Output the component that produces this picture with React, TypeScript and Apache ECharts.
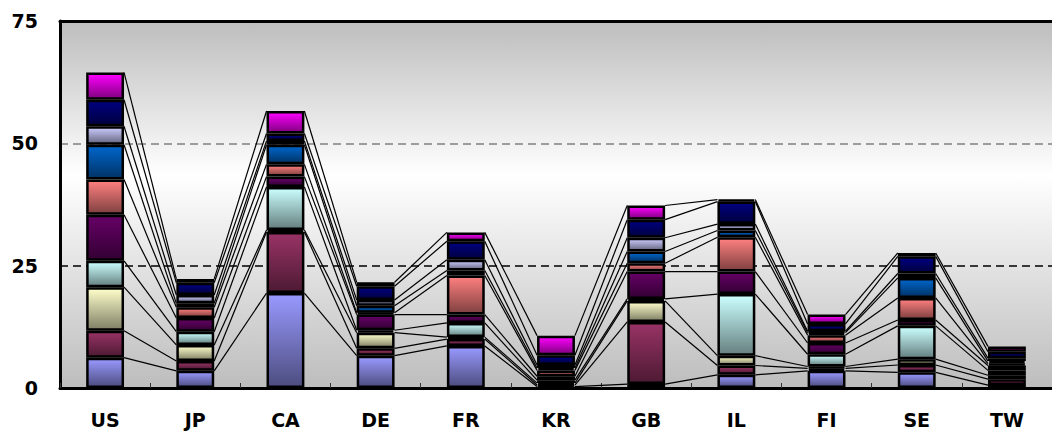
import React, { useEffect, useRef } from "react";
import * as echarts from "echarts";

const categories = ["US", "JP", "CA", "DE", "FR", "KR", "GB", "IL", "FI", "SE", "TW"];
const yTicks = [0, 25, 50, 75];

const series1 = [6.2, 3.5, 19.4, 6.6, 8.6, 0.3, 0.8, 2.7, 3.5, 3.2, 0.6];
const series2 = [5.5, 2.0, 12.5, 1.5, 1.4, 0.3, 12.7, 1.9, 0.5, 1.5, 1.2];
const series3 = [8.9, 3.3, 0.4, 3.2, 0.4, 0.4, 4.3, 2.0, 0.4, 1.2, 0.8];
const series4 = [5.4, 2.7, 8.8, 0.5, 2.9, 0.6, 0.4, 12.6, 2.5, 6.8, 1.0];
const series5 = [9.4, 2.8, 2.1, 3.2, 1.7, 0.8, 5.6, 4.6, 2.3, 1.2, 1.0];
const series6 = [7.2, 2.2, 2.5, 0.4, 8.0, 1.2, 1.7, 7.0, 1.6, 4.5, 0.4];
const series7 = [7.1, 0.8, 4.0, 1.4, 1.0, 0.5, 2.4, 1.4, 0.5, 4.1, 0.5];
const series8 = [3.8, 1.7, 0.8, 1.2, 2.2, 0.6, 2.8, 1.3, 0.3, 0.9, 0.6];
const series9 = [5.4, 2.5, 1.5, 2.8, 3.8, 2.0, 3.7, 4.6, 1.5, 3.5, 1.3];
const series10 = [5.6, 0.8, 4.6, 0.8, 1.8, 4.0, 2.9, 0.4, 1.9, 0.7, 1.1];

const seriesValues = [series1, series2, series3, series4, series5, series6, series7, series8, series9, series10];
const seriesNames = ["Series 1", "Series 2", "Series 3", "Series 4", "Series 5", "Series 6", "Series 7", "Series 8", "Series 9", "Series 10"];
const topColors = ["#9999FF", "#993366", "#FFFFCC", "#CCFFFF", "#660066", "#FF8080", "#0066CC", "#CCCCFF", "#000080", "#FF00FF"];
const bottomColors = ["#4D4D80", "#4D1A33", "#808066", "#668080", "#330033", "#804040", "#003366", "#666680", "#000040", "#800080"];

const BAR_FRAC = 0.42;

export default function App() {
  const ref = useRef<HTMLDivElement>(null);
  useEffect(() => {
    if (!ref.current) return;
    const chart = echarts.init(ref.current, null, { renderer: "svg" });

    const cum: number[][] = categories.map((_, i) => {
      let s = 0;
      return seriesValues.map((arr) => {
        s += arr[i];
        return +s.toFixed(3);
      });
    });
    const lineData: number[][] = [];
    for (let i = 0; i < categories.length - 1; i++) {
      for (let k = 0; k < seriesValues.length; k++) {
        lineData.push([i, cum[i][k], cum[i + 1][k]]);
      }
    }

    const bars = seriesValues.map((vals, k) => ({
      name: seriesNames[k],
      type: "bar",
      stack: "total",
      barWidth: BAR_FRAC * 100 + "%",
      z: 3,
      data: vals,
      itemStyle: {
        color: new echarts.graphic.LinearGradient(0, 0, 0, 1, [
          { offset: 0, color: topColors[k] },
          { offset: 1, color: bottomColors[k] },
        ]),
        borderColor: "#000",
        borderWidth: 2.5,
      },
    }));

    const option: any = {
      animation: false,
      grid: {
        left: 60,
        top: 21,
        width: 998,
        height: 367,
        show: true,
        borderWidth: 0,
        backgroundColor: new echarts.graphic.LinearGradient(0, 0, 0, 1, [
          { offset: 0, color: "#bdbdbd" },
          { offset: 0.42, color: "#ffffff" },
          { offset: 1, color: "#bdbdbd" },
        ]),
      },
      xAxis: [
        {
          type: "category",
          data: categories,
          position: "bottom",
          axisLine: { lineStyle: { color: "#000", width: 3 } },
          axisTick: { show: true, inside: true, length: 5, lineStyle: { color: "#333", width: 1 } },
          axisLabel: {
            color: "#000",
            fontFamily: "DejaVu Sans",
            fontWeight: "bold",
            fontSize: 19,
            margin: 22,
          },
        },
        {
          type: "category",
          data: categories,
          position: "top",
          axisLine: { lineStyle: { color: "#000", width: 3 } },
          axisTick: { show: false },
          axisLabel: { show: false },
        },
      ],
      yAxis: {
        type: "value",
        min: yTicks[0],
        max: yTicks[yTicks.length - 1],
        interval: 25,
        axisLine: { show: true, lineStyle: { color: "#000", width: 3 } },
        axisTick: { show: false },
        axisLabel: {
          color: "#000",
          fontFamily: "DejaVu Sans",
          fontWeight: "bold",
          fontSize: 19,
          margin: 22,
        },
        splitLine: {
          show: true,
          lineStyle: {
            color: ["transparent", "#000", "#808080", "transparent"],
            type: [8, 5],
            width: 1.5,
          },
        },
      },
      series: [
        {
          type: "custom",
          name: "series lines",
          z: 1,
          silent: true,
          encode: { x: 0, y: 1 },
          data: lineData,
          renderItem: (params: any, api: any) => {
            const i = api.value(0);
            const p1 = api.coord([i, api.value(1)]);
            const p2 = api.coord([i + 1, api.value(2)]);
            const bw = api.size([1, 0])[0] * BAR_FRAC;
            return {
              type: "line",
              shape: { x1: p1[0] + bw / 2, y1: p1[1], x2: p2[0] - bw / 2, y2: p2[1] },
              style: { stroke: "#000", lineWidth: 1.2 },
            };
          },
        },
        ...bars,
      ],
    };
    chart.setOption(option);
    return () => chart.dispose();
  }, []);
  return (
    <div
      ref={ref}
      style={{ position: "absolute", left: 0, top: 0, width: 1052, height: 433 }}
    />
  );
}
